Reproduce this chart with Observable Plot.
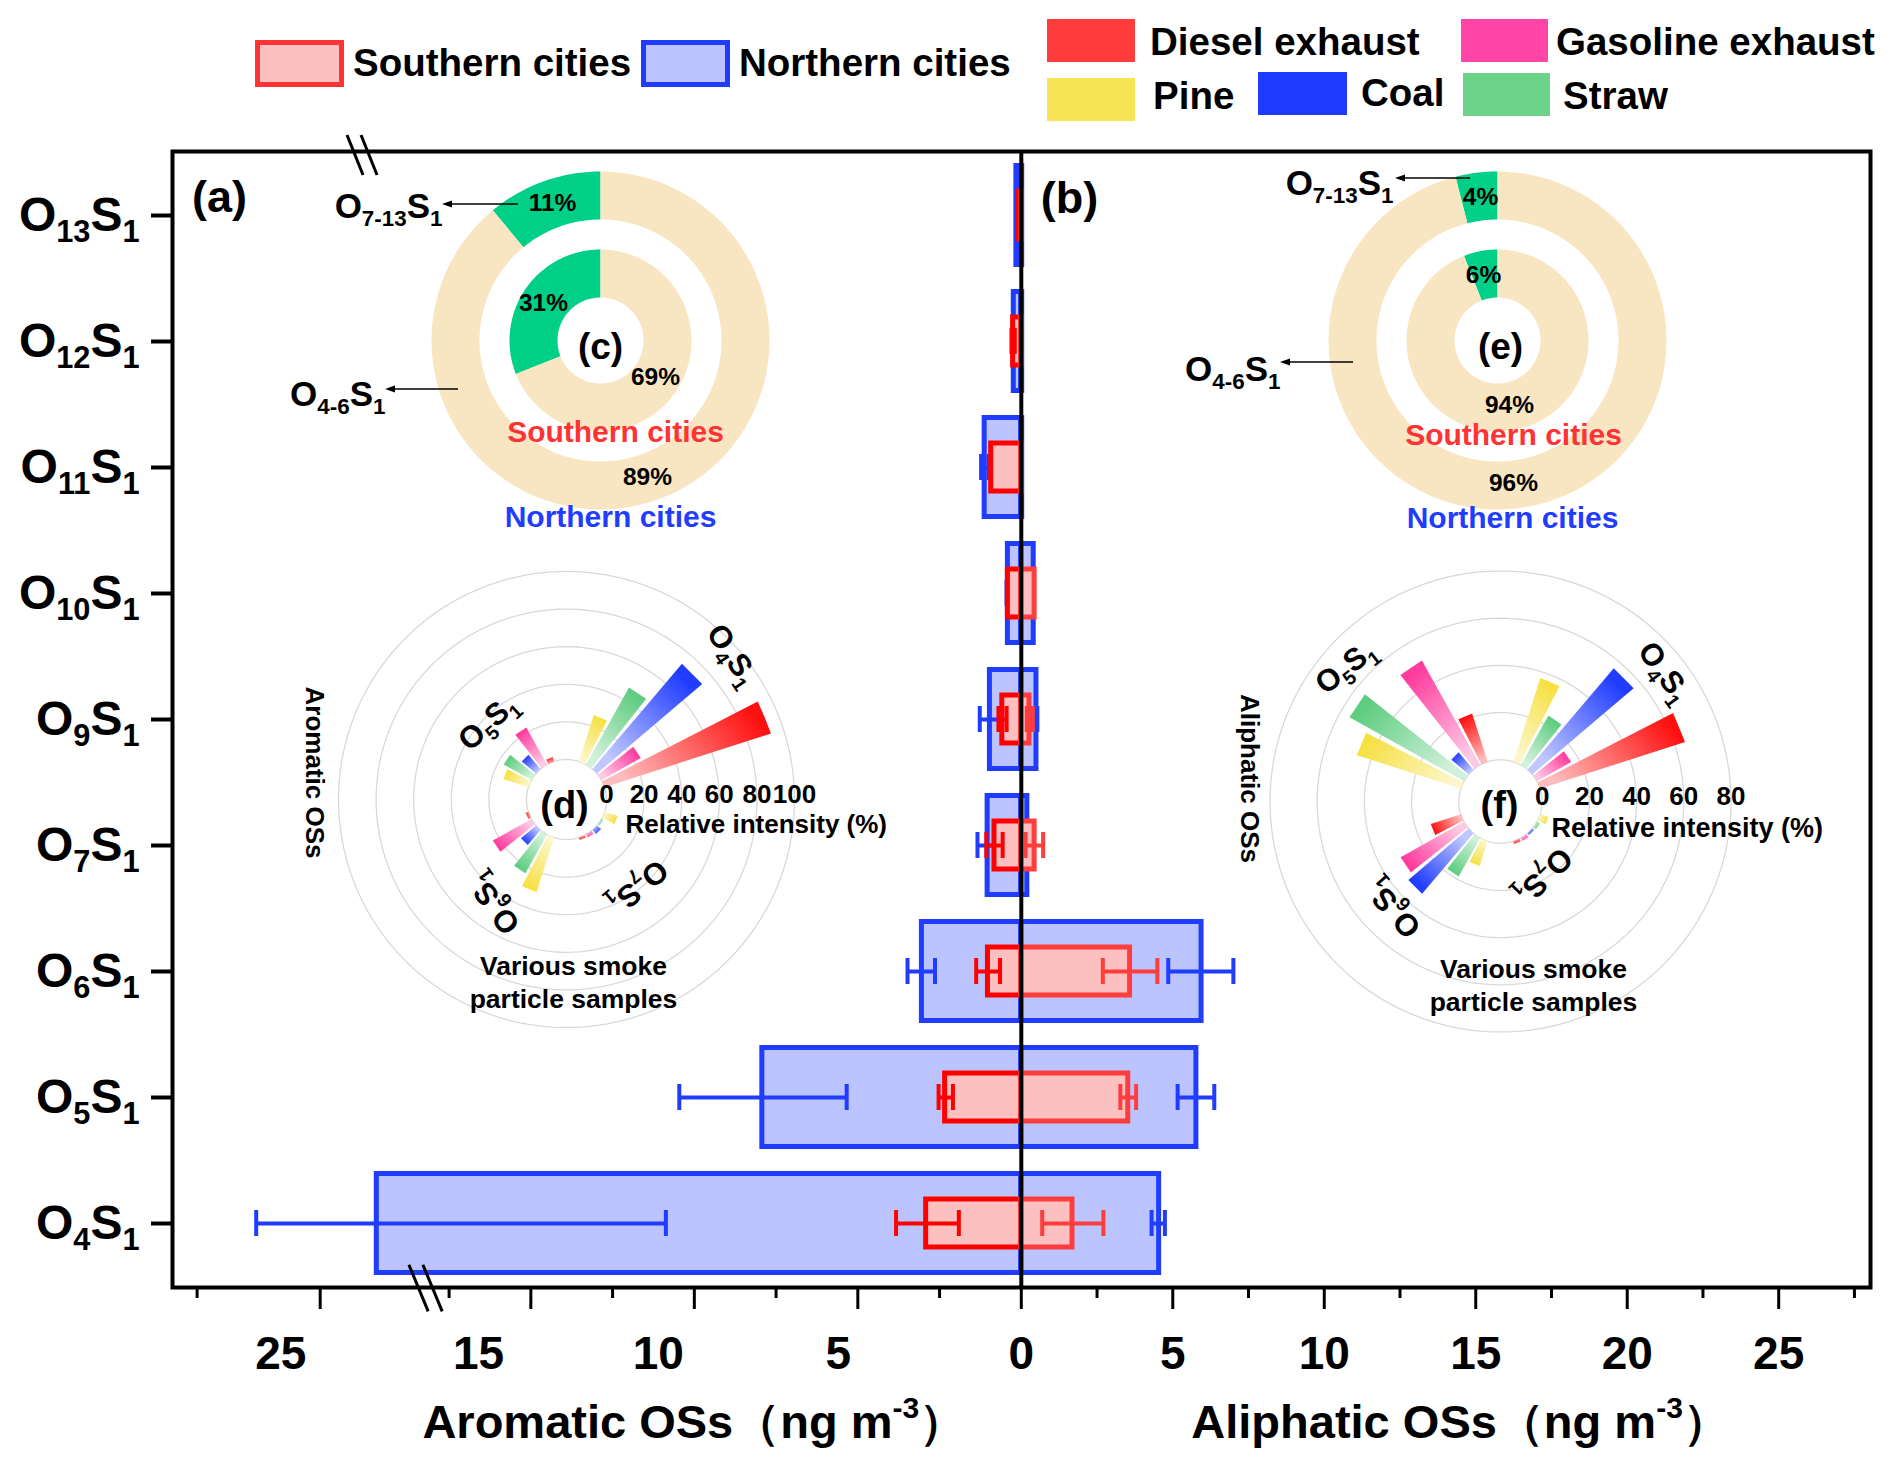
<!DOCTYPE html>
<html><head><meta charset="utf-8">
<script src="https://cdn.jsdelivr.net/npm/d3@7"></script>
<script src="https://cdn.jsdelivr.net/npm/@observablehq/plot@0.6"></script>
<style>
body{margin:0;background:#fff;}
#page{position:relative;width:1892px;height:1467px;font-family:"Liberation Sans",Arial,Helvetica,sans-serif;overflow:hidden;}
.sw{position:absolute;box-sizing:border-box;}
.lt{position:absolute;font-weight:bold;font-size:38.5px;line-height:1;white-space:nowrap;transform:translateY(-50%);color:#000;}
.layer{position:absolute;}
</style></head>
<body><div id="page"></div>
<script>
// ---------------- DATA ----------------
const categories = ["O13S1","O12S1","O11S1","O10S1","O9S1","O7S1","O6S1","O5S1","O4S1"];
const categoryLabels = ["O_{13}S_{1}","O_{12}S_{1}","O_{11}S_{1}","O_{10}S_{1}","O_{9}S_{1}","O_{7}S_{1}","O_{6}S_{1}","O_{5}S_{1}","O_{4}S_{1}"];
// box extents (ng m-3): aromatic drawn to the left, aliphatic to the right
const northArom  = [0.15, 0.23, 1.12, 0.41, 0.96, 1.03, 3.04, 7.92, 23.85];
const northAliph = [0.03, 0.03, 0.03, 0.41, 0.50, 0.20, 5.95, 5.78, 4.55];
const southArom  = [0.10, 0.25, 0.92, 0.41, 0.58, 0.82, 1.02, 2.33, 2.91];
const southAliph = [0.01, 0.01, 0.01, 0.44, 0.27, 0.44, 3.59, 3.53, 1.69];
// error bar ends [inner, outer]
const northAromErr  = [null, null, [1.00,1.23], [0.37,0.45], [0.65,1.27], [0.72,1.34], [2.64,3.48], [5.34,10.46], [10.87,26.3]];
const northAliphErr = [null, null, null, null, [0.47,0.53], null, [4.85,7.00], [5.16,6.37], [4.30,4.74]];
const southAromErr  = [null, [0.20,0.30], null, null, [0.45,0.70], [0.57,1.07], [0.65,1.38], [2.09,2.53], [1.91,3.83]];
const southAliphErr = [null, null, null, null, [0.18,0.38], [0.14,0.72], [2.69,4.49], [3.27,3.79], [0.69,2.71]];

const xMajorTicks = [-25,-15,-10,-5,0,5,10,15,20,25];
const xMinorTicks = [-27.5,-17.5,-12.5,-7.5,-2.5,2.5,7.5,12.5,17.5,22.5,27.5];
const xTickLabels = ["25","15","10","5","0","5","10","15","20","25"];
const xTickLabelAt = [-25.8,-16.6,-11.1,-5.6,0,5,10,15,20,25];
const axisTitles = ["Aromatic OSs（ng m^{-3}）","Aliphatic OSs（ng m^{-3}）"];
const axisTitleAt = [-10.0, 14.5];

// donut shares (%): [O7-13S1, O4-6S1]
const donutParts = ["O_{7-13}S_{1}","O_{4-6}S_{1}"];
const aromSouthShare  = [31, 69];
const aromNorthShare  = [11, 89];
const aliphSouthShare = [6, 94];
const aliphNorthShare = [4, 96];

// rose charts: relative intensity (%) per source, groups O4S1,O5S1,O6S1,O7S1
const sources = ["Diesel exhaust","Gasoline exhaust","Pine","Coal","Straw"];
const roseGroups = ["O4S1","O5S1","O6S1","O7S1"];
const roseGroupLabels = ["O_{4}S_{1}","O_{5}S_{1}","O_{6}S_{1}","O_{7}S_{1}"];
const aromDiesel   = [93, 2.5, 1.5, 1.4];
const aromGasoline = [24, 22.6, 23.6, 1.9];
const aromPine     = [26, 14, 30.6, 7.4];
const aromCoal     = [73.5, 10, 10.5, 2.9];
const aromStraw    = [47, 17, 23.6, 1.0];
const aliphDiesel   = [64.5, 21.5, 13.4, 1.2];
const aliphGasoline = [16.6, 50.7, 30.8, 1.5];
const aliphPine     = [37.3, 46.3, 11.1, 3.8];
const aliphCoal     = [56.4, 9.7, 33.6, 1.0];
const aliphStraw    = [24, 55.6, 18.7, 1.4];
const aromTicks = [0,20,40,60,80,100];
const aliphTicks = [0,20,40,60,80];

// ---------------- STYLE ----------------
const FONT = "'Liberation Sans', Arial, Helvetica, sans-serif";
const BLUE = "#1f3cff", BLUE_FILL = "#bbc4ff", RED = "#ff0000", RED2 = "#ff3d3d", RED_FILL = "#fcc0c0";
const legendColors = ["#ff3d3d","#ff45a5","#f8e556","#1f3bff","#6dd38a"];
const barColors = ["#ff1010","#ff3c9e","#f6e042","#1f3cff","#5fcd80"];
const donutColors = ["#00cf88","#f8e6c3"];
const page = document.getElementById("page");
const SVGNS = "http://www.w3.org/2000/svg";

function richify(root){
  root.querySelectorAll("text").forEach(el=>{
    const s = el.textContent;
    if(!/[_^]\{/.test(s)) return;
    const fs = parseFloat(getComputedStyle(el).fontSize)||16;
    while(el.firstChild) el.removeChild(el.firstChild);
    const re = /([_^])\{([^}]*)\}|([^_^]+)/g;
    let m, shift = 0;
    while((m = re.exec(s))){
      const t = document.createElementNS(SVGNS,"tspan");
      let target, str;
      if(m[1]){ target = m[1]==="_" ? 0.24*fs : -0.42*fs; str = m[2]; t.style.fontSize = (0.64*fs)+"px"; }
      else { target = 0; str = m[3]; }
      const d = target - shift;
      if(Math.abs(d)>0.01) t.setAttribute("dy", d.toFixed(2));
      shift = target; t.textContent = str; el.appendChild(t);
    }
  });
}
function place(el, left, top){ el.classList.add("layer"); el.style.left = left+"px"; el.style.top = top+"px"; page.appendChild(el); return el; }

// ---------------- LEGEND (HTML, above the plot) ----------------
const legendBoxes = [
  {label:"Southern cities", fill:RED_FILL, border:"#ff3333", x:255, y:40, w:89, h:47, tx:353, ty:63},
  {label:"Northern cities", fill:BLUE_FILL, border:BLUE, x:641, y:40, w:89, h:47, tx:739, ty:63}
];
legendBoxes.forEach(b=>{
  const s=document.createElement("div"); s.className="sw";
  Object.assign(s.style,{left:b.x+"px",top:b.y+"px",width:b.w+"px",height:b.h+"px",background:b.fill,border:"5px solid "+b.border});
  page.appendChild(s);
  const t=document.createElement("div"); t.className="lt"; t.textContent=b.label;
  Object.assign(t.style,{left:b.tx+"px",top:b.ty+"px"}); page.appendChild(t);
});
const legendPos = [
  {x:1047,y:19,w:88,h:43,tx:1150,ty:42},
  {x:1461,y:19,w:87,h:43,tx:1556,ty:42},
  {x:1047,y:78,w:88,h:43,tx:1153,ty:96},
  {x:1258,y:72,w:89,h:43,tx:1361,ty:93},
  {x:1463,y:73,w:87,h:43,tx:1563,ty:96}
];
sources.forEach((src,i)=>{
  const p=legendPos[i];
  const s=document.createElement("div"); s.className="sw";
  Object.assign(s.style,{left:p.x+"px",top:p.y+"px",width:p.w+"px",height:p.h+"px",background:legendColors[i]});
  page.appendChild(s);
  const t=document.createElement("div"); t.className="lt"; t.textContent=src;
  Object.assign(t.style,{left:p.tx+"px",top:p.ty+"px"}); page.appendChild(t);
});

// ---------------- MAIN BOX CHART ----------------
const rowsN = categories.map((cat,i)=>({cat, arom:northArom[i], aliph:northAliph[i]}));
const rowsS = categories.map((cat,i)=>({cat, arom:southArom[i], aliph:southAliph[i]}));
function errRows(arr, sign){ const out=[]; arr.forEach((e,i)=>{ if(e) out.push({cat:categories[i], lo:sign*e[0], hi:sign*e[1]}); }); return out; }
function whisker(rows, color){
  return [
    Plot.ruleY(rows,{y:"cat",x1:"lo",x2:"hi",stroke:color,strokeWidth:4}),
    Plot.tickX(rows,{y:"cat",x:"lo",stroke:color,strokeWidth:4,insetTop:50,insetBottom:50}),
    Plot.tickX(rows,{y:"cat",x:"hi",stroke:color,strokeWidth:4,insetTop:50,insetBottom:50})
  ];
}
const main = Plot.plot({
  width:1892, height:1337,
  marginLeft:172, marginRight:22, marginTop:21, marginBottom:180,
  style:{fontFamily:FONT, background:"transparent", overflow:"visible", color:"#000"},
  x:{type:"linear", domain:[-28,-22.8,-18.13,0,28.03], range:[172,428,428,1020.8,1870]},
  y:{type:"band", domain:categories, padding:0},
  marks:[
    Plot.barX(rowsN,{y:"cat",x1:d=>-d.arom,x2:0,fill:BLUE_FILL,stroke:BLUE,strokeWidth:5,insetTop:13.5,insetBottom:13.5}),
    Plot.barX(rowsN,{y:"cat",x1:0,x2:"aliph",fill:BLUE_FILL,stroke:BLUE,strokeWidth:5,insetTop:13.5,insetBottom:13.5}),
    ...whisker(errRows(northAromErr,-1),BLUE),
    ...whisker(errRows(northAliphErr,1),BLUE),
    Plot.barX(rowsS,{y:"cat",x1:d=>-d.arom,x2:0,fill:RED_FILL,stroke:RED,strokeWidth:5,insetTop:39,insetBottom:39}),
    Plot.barX(rowsS,{y:"cat",x1:0,x2:"aliph",fill:RED_FILL,stroke:RED2,strokeWidth:5,insetTop:39,insetBottom:39}),
    ...whisker(errRows(southAromErr,-1),RED),
    ...whisker(errRows(southAliphErr,1),RED2),
    Plot.ruleX([0],{stroke:"#000",strokeWidth:4}),
    Plot.frame({stroke:"#000",strokeWidth:4}),
    Plot.axisY({tickSize:21,tickPadding:12,fontSize:48,fontWeight:"bold",strokeWidth:4,label:null,
      tickFormat:d=>categoryLabels[categories.indexOf(d)]}),
    Plot.axisX(xMinorTicks,{tickSize:11,tickFormat:()=>"",strokeWidth:3,label:null}),
    Plot.axisX(xMajorTicks,{tickSize:22,tickFormat:()=>"",strokeWidth:3,label:null}),
    Plot.text(xTickLabels.map((t,i)=>({t,at:xTickLabelAt[i]})),{x:"at",text:"t",frameAnchor:"bottom",lineAnchor:"middle",dy:67,fontSize:46,fontWeight:"bold"}),
    Plot.text(axisTitles.map((t,i)=>({t,at:axisTitleAt[i]})),{x:"at",text:"t",frameAnchor:"bottom",lineAnchor:"middle",dy:135,fontSize:47,fontWeight:"bold"}),
    Plot.text(["(a)"],{text:d=>d,frameAnchor:"top-left",textAnchor:"middle",lineAnchor:"middle",dx:47,dy:46,fontSize:45,fontWeight:"bold"}),
    Plot.text(["(b)"],{text:d=>d,frameAnchor:"top-left",textAnchor:"middle",lineAnchor:"middle",dx:897,dy:47,fontSize:45,fontWeight:"bold"})
  ]
});
place(main,0,130);
richify(main);
// axis-break marks, positioned with the x scale
(function(){
  const xs = main.scale("x");
  const sel = d3.select(main);
  const breaks = [{v:-24.14, y:25, half:20, slope:0.4}, {v:-22.85, y:1158, half:23.3, slope:0.415}];
  breaks.forEach(b=>{
    const cx = xs.apply(b.v);
    [-7,7].forEach(off=>{
      sel.append("line").attr("x1",cx+off-b.half*b.slope).attr("y1",b.y-b.half)
        .attr("x2",cx+off+b.half*b.slope).attr("y2",b.y+b.half)
        .attr("stroke","#000").attr("stroke-width",3);
    });
  });
})();

// ---------------- POLAR HELPERS ----------------
const INSET = 680, IR = INSET/2, PPD = IR/90;
const latOf = px => 90 - px/PPD;
const projection = () => ({type:"azimuthal-equidistant", rotate:[0,-90], domain:d3.geoCircle().center([0,90]).radius(90)()});

function textMarks(list){
  return list.map(t=>Plot.text([t.text],{text:d=>d,frameAnchor:"middle",dx:t.dx,dy:t.dy,fontSize:t.size,fontWeight:"bold",
    textAnchor:t.anchor||"middle",lineAnchor:"middle",rotate:t.rot||0,fill:t.color||"#000"}));
}

// ---------------- DONUTS ----------------
function donutInset(cfg){
  const rings = [{shares:cfg.south, r0:43, r1:91},{shares:cfg.north, r0:121, r1:169}];
  const pie = d3.pie().sort(null).value(d=>d);
  const slices = [];
  rings.forEach(ring=>pie(ring.shares).forEach((a,k)=>{
    const l0 = 180 + a.startAngle*180/Math.PI, l1 = 180 + a.endAngle*180/Math.PI;
    const n = Math.max(2, Math.ceil((l1-l0)/2));
    const inner = d3.range(n+1).map(j=>[l0+(l1-l0)*j/n, latOf(ring.r0)]);
    const outer = d3.range(n+1).map(j=>[l1-(l1-l0)*j/n, latOf(ring.r1)]);
    slices.push({type:"Feature",properties:{fill:donutColors[k]},geometry:{type:"Polygon",coordinates:[[...inner,...outer,inner[0]]]}});
  }));
  const svg = Plot.plot({
    width:INSET, height:INSET, margin:0, projection:projection(),
    color:{type:"identity"},
    style:{fontFamily:FONT, background:"transparent", overflow:"visible"},
    marks:[
      Plot.geo(slices,{fill:d=>d.properties.fill, stroke:"none"}),
      ...textMarks(cfg.texts)
    ]
  });
  place(svg, cfg.cx-IR, cfg.cy-IR);
  richify(svg);
  const sel = d3.select(svg);
  cfg.arrows.forEach(a=>{
    sel.append("line").attr("x1",IR+a.x1).attr("y1",IR+a.y).attr("x2",IR+a.x2+6).attr("y2",IR+a.y)
      .attr("stroke","#000").attr("stroke-width",1.6);
    sel.append("path").attr("d",`M${IR+a.x2},${IR+a.y}L${IR+a.x2+10},${IR+a.y-3.5}L${IR+a.x2+10},${IR+a.y+3.5}Z`).attr("fill","#000");
  });
}
donutInset({cx:600, cy:340, south:aromSouthShare, north:aromNorthShare,
  texts:[
    {text:aromNorthShare[0]+"%",dx:-48,dy:-137,size:24.5},
    {text:aromSouthShare[0]+"%",dx:-57,dy:-37,size:24.5},
    {text:aromSouthShare[1]+"%",dx:55,dy:37,size:24.5},
    {text:aromNorthShare[1]+"%",dx:47,dy:137,size:24.5},
    {text:"(c)",dx:0,dy:7,size:37},
    {text:"Southern cities",dx:15,dy:92,size:30,color:"#ff3333"},
    {text:"Northern cities",dx:10,dy:177,size:30,color:BLUE},
    {text:donutParts[0],dx:-158,dy:-134,size:35,anchor:"end"},
    {text:donutParts[1],dx:-215,dy:54,size:35,anchor:"end"}
  ],
  arrows:[{x1:-82,x2:-158,y:-136},{x1:-142,x2:-215,y:49}]
});
donutInset({cx:1496.7, cy:340, south:aliphSouthShare, north:aliphNorthShare,
  texts:[
    {text:aliphNorthShare[0]+"%",dx:-17,dy:-143,size:24.5},
    {text:aliphSouthShare[0]+"%",dx:-14,dy:-65,size:24.5},
    {text:aliphSouthShare[1]+"%",dx:12,dy:65,size:24.5},
    {text:aliphNorthShare[1]+"%",dx:16,dy:143,size:24.5},
    {text:"(e)",dx:3,dy:7,size:37},
    {text:"Southern cities",dx:16,dy:95,size:30,color:"#ff3333"},
    {text:"Northern cities",dx:15,dy:178,size:30,color:BLUE},
    {text:donutParts[0],dx:-104,dy:-157,size:35,anchor:"end"},
    {text:donutParts[1],dx:-217,dy:29,size:35,anchor:"end"}
  ],
  arrows:[{x1:-27,x2:-102,y:-162},{x1:-144,x2:-217,y:22}]
});

// ---------------- ROSE CHARTS ----------------
const ccwOrder = ["Diesel exhaust","Gasoline exhaust","Coal","Straw","Pine"];
function roseInset(cfg){
  const rScale = d3.scaleLinear(cfg.rDomain, cfg.rRange);
  const groupBand = d3.scaleBand(roseGroups,[0,360]);
  const srcBand = d3.scaleBand(ccwOrder,[16.875,73.125]).paddingInner(0.18).paddingOuter(0.09);
  const bars = [];
  roseGroups.forEach((g,gi)=>ccwOrder.forEach(src=>{
    const si = sources.indexOf(src);
    const v = cfg.values[si][gi];
    const p0 = groupBand(g)+srcBand(src), p1 = p0+srcBand.bandwidth();
    const a = latOf(rScale(0)), b = latOf(rScale(v));
    bars.push({type:"Feature",properties:{id:`${cfg.id}-g${bars.length}`, color:barColors[si], phi:(p0+p1)/2},
      geometry:{type:"Polygon",coordinates:[[[90+p0,a],[90+p1,a],[90+p1,b],[90+p0,b],[90+p0,a]]]}});
  }));
  const svg = Plot.plot({
    width:INSET, height:INSET, margin:0, projection:projection(),
    color:{type:"identity"},
    style:{fontFamily:FONT, background:"transparent", overflow:"visible"},
    marks:[
      Plot.geo(cfg.ticks,{geometry:v=>d3.geoCircle().center([0,90]).radius(rScale(v)/PPD)(), stroke:"#d9d9d9", strokeWidth:1.3, fill:"none"}),
      Plot.geo(bars,{fill:d=>`url(#${d.properties.id})`, stroke:"none"}),
      Plot.text(roseGroups.map((g,i)=>({label:roseGroupLabels[i], ...cfg.groupLabels[i]})),
        {x:d=>180-d.ang, y:d=>latOf(d.r), rotate:"rot", text:"label", fontSize:31, fontWeight:"bold"}),
      Plot.text(cfg.ticks,{x:()=>90, y:v=>latOf(rScale(v)), text:v=>String(v), dy:-5, fontSize:26, fontWeight:"bold"}),
      ...textMarks(cfg.texts)
    ]
  });
  const defs = d3.select(svg).insert("defs",":first-child");
  bars.forEach(bf=>{
    const {id,color,phi} = bf.properties;
    const c = Math.cos(phi*Math.PI/180), s = Math.sin(phi*Math.PI/180);
    const g = defs.append("linearGradient").attr("id",id)
      .attr("x1",0.5-0.5*c).attr("y1",0.5+0.5*s).attr("x2",0.5+0.5*c).attr("y2",0.5-0.5*s);
    g.append("stop").attr("offset",0).attr("stop-color",d3.interpolateRgb(color,"#ffffff")(0.72));
    g.append("stop").attr("offset",1).attr("stop-color",color);
  });
  place(svg, cfg.cx-IR, cfg.cy-IR);
  richify(svg);
}
roseInset({id:"rd", cx:566.3, cy:799, rDomain:[0,100], rRange:[40,228], ticks:aromTicks,
  values:[aromDiesel,aromGasoline,aromPine,aromCoal,aromStraw],
  groupLabels:[{ang:49,r:220,rot:56},{ang:314.5,r:110,rot:-42},{ang:215,r:127,rot:234},{ang:140.8,r:113,rot:140}],
  texts:[
    {text:"(d)",dx:-2,dy:6,size:38},
    {text:"Relative intensity (%)",dx:59,dy:25,size:26,anchor:"start"},
    {text:"Aromatic OSs",dx:-252,dy:-27,size:26,rot:90},
    {text:"Various smoke",dx:7,dy:167,size:26.5},
    {text:"particle samples",dx:7,dy:200,size:26.5}
  ]});
roseInset({id:"rf", cx:1500, cy:800.7, rDomain:[0,80], rRange:[41.7,230.5], ticks:aliphTicks,
  values:[aliphDiesel,aliphGasoline,aliphPine,aliphCoal,aliphStraw],
  groupLabels:[{ang:51.8,r:208.6,rot:54},{ang:311,r:205,rot:-38},{ang:225.2,r:151.7,rot:228.5},{ang:150.3,r:86.3,rot:135}],
  texts:[
    {text:"(f)",dx:-1,dy:4,size:38},
    {text:"Relative intensity (%)",dx:51,dy:27,size:27,anchor:"start"},
    {text:"Aliphatic OSs",dx:-251,dy:-23,size:26,rot:90},
    {text:"Various smoke",dx:33,dy:168,size:26.5},
    {text:"particle samples",dx:33,dy:201,size:26.5}
  ]});
</script>
</body></html>
